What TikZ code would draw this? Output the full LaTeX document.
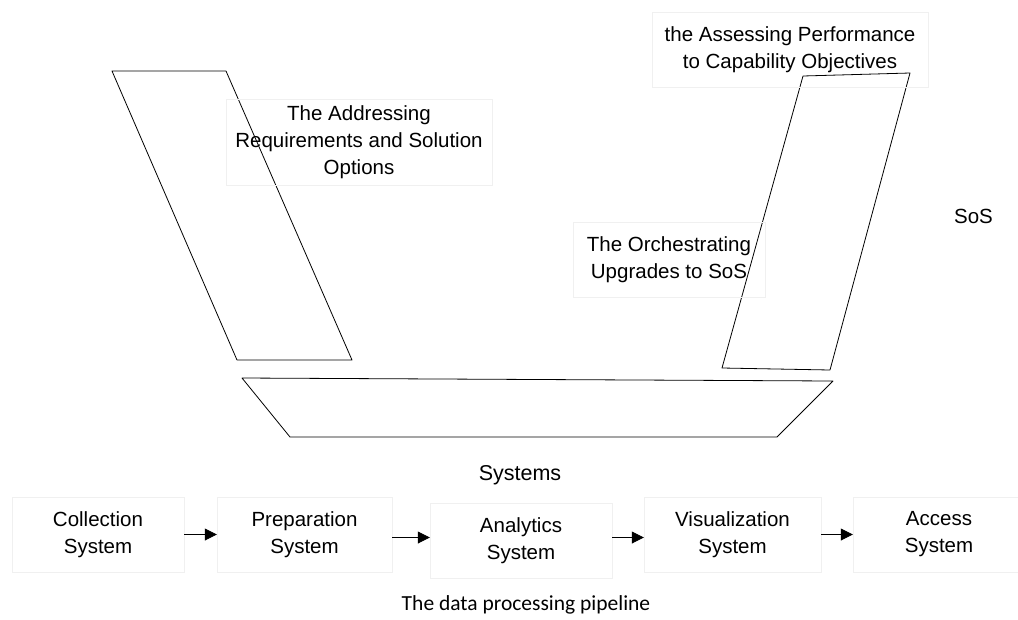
\documentclass[tikz,border=0pt]{standalone}
\usepackage{fontspec}
\setmainfont{Liberation Sans}
\newfontfamily\capfont{Carlito}
\usetikzlibrary{arrows.meta}
\begin{document}
\begin{tikzpicture}[x=1pt,y=-1pt,
  lbl/.style={draw=black!6, align=center, inner sep=0pt,
    font=\fontsize{20.5}{27}\selectfont},
  shp/.style={draw=black, line width=0.8pt, line join=round},
  arr/.style={-{Triangle[length=12pt,width=12pt]}, line width=0.8pt}]
\useasboundingbox (0,0) rectangle (1018,619);
% shapes
\draw[shp] (112,71) -- (226,71) -- (352,360) -- (237,360) -- cycle;
\draw[shp] (803,76) -- (910,73) -- (830,370) -- (722,368) -- cycle;
\draw[shp] (242,378) -- (833,381) -- (777,437) -- (290,437) -- cycle;
% labels
\node[lbl, minimum width=266pt, minimum height=86pt] (addr) at (359,142)
  {The Addressing\\Requirements and Solution\\Options};
\node[lbl, minimum width=276pt, minimum height=75pt] (assess) at (790,49.5)
  {the Assessing Performance\\to Capability Objectives};
\node[lbl, minimum width=192pt, minimum height=75pt] (orch) at (669,260)
  {The Orchestrating\\Upgrades to SoS};
\node[font=\fontsize{20.5}{24}\selectfont] (sos) at (973.5,216) {SoS};
\node[font=\fontsize{21.5}{24}\selectfont] (sys) at (520,475) {Systems};
% pipeline
\node[lbl, minimum width=172pt, minimum height=75pt] (coll) at (98,534.5) {Collection\\System};
\node[lbl, minimum width=175pt, minimum height=75pt] (prep) at (304.5,534.5) {Preparation\\System};
\node[lbl, minimum width=182pt, minimum height=75pt] (ana) at (521,540.5) {Analytics\\System};
\node[lbl, minimum width=177pt, minimum height=75pt] (vis) at (732.5,534.5) {Visualization\\System};
\node[lbl, minimum width=172pt, minimum height=75pt] (acc) at (939,534.5) {Access\\System};
\draw[arr] (coll.east) -- (prep.west);
\draw[arr] ([yshift=-3pt]prep.east) -- ([yshift=-3pt]prep.east -| ana.west);
\draw[arr] ([yshift=3pt]ana.east) -- ([yshift=3pt]ana.east -| vis.west);
\draw[arr] (vis.east) -- (acc.west);
\node[font=\capfont\fontsize{21.5}{24}\selectfont] (cap) at (526,605) {The data processing pipeline};
\end{tikzpicture}
\end{document}
